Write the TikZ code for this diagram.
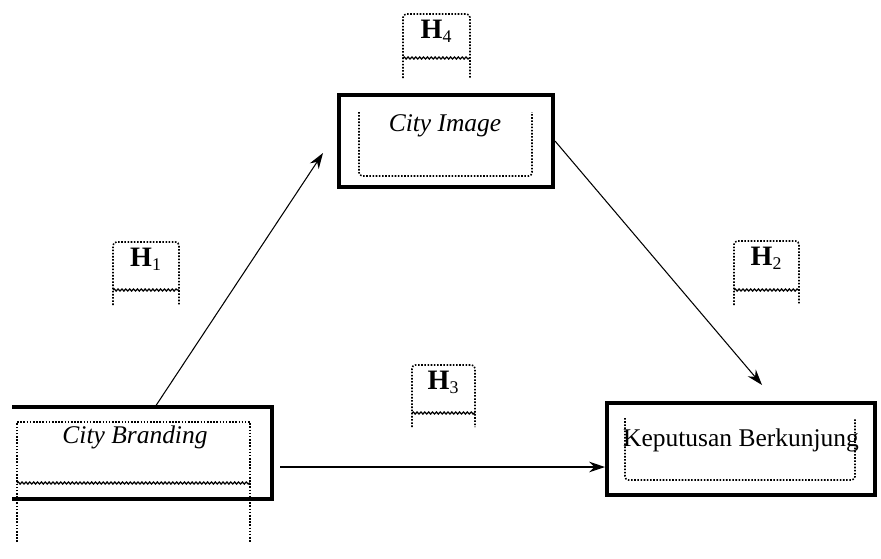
\documentclass[tikz,border=0pt]{standalone}
\usepackage{fontspec}
\setmainfont{Liberation Serif}
\usetikzlibrary{arrows.meta,decorations.pathmorphing}

\tikzset{
	varbox/.style={draw,line width=2.3pt,inner sep=0pt,minimum height=1.84cm},
	dotbox/.style={draw,line width=0.9pt,dash pattern=on 0.9pt off 0.9pt},
	wavy/.style={decorate,decoration={snake,amplitude=0.6pt,segment length=2.2pt},line width=0.7pt},
	link/.style={-{Stealth[length=9pt,width=6pt]},line width=0.6pt},
	lbl/.style={font=\fontsize{14.5}{17}\selectfont}
}

\begin{document}
\begin{tikzpicture}[x=0.02cm,y=-0.02cm]
		\useasboundingbox (0,0) rectangle (881,558);
		% the three variables
		\node[varbox,minimum width=4.28cm] (image) at (446,141) {};
		\node[varbox,draw=none,outer sep=0pt,minimum width=5.2cm] (branding) at (142,453) {};
		\draw[line width=2.3pt] (branding.north west) -- (branding.north east) -- (branding.south east) -- (branding.south west);
		\node[varbox,minimum width=5.36cm] (keputusan) at (741,449) {};
		\node[lbl] (imagetxt) at (445,126) {\textit{City Image}};
		\node[lbl] (brandingtxt) at (135,437) {\textit{City Branding}};
		\node[lbl] (keputusantxt) at (741,440) {Keputusan Berkunjung};
		% dotted frames inside
		\draw[dotbox,rounded corners=2pt] (359,112) -- (359,176) -- (532,176) -- (532,112);
		\draw[dotbox,rounded corners=2pt] (625,418) -- (625,480) -- (855,480) -- (855,418);
		\draw[dotbox] (17,542) -- (17,422) -- (250,422) -- (250,542);
		\draw[wavy] (17,483) -- (250,483);
		% hypotheses
		\foreach \i/\l/\r/\t/\w/\b in {4/403/470/14/58/78,1/113/179/242/290/305,2/734/799/241/290/305,3/412/475/365/413/427}
		{
			\draw[dotbox,rounded corners=2pt] (\l,\b) -- (\l,\t) -- (\r,\t) -- (\r,\b);
			\draw[wavy] (\l,\w) -- (\r,\w);
			\node[lbl] (h\i) at ({(\l+\r)/2},{\t+17}) {\textbf{\fontsize{16}{18}\selectfont H}\textsubscript{\i}};
		}
		% paths
		\coordinate (imgin) at (323,153);
		\coordinate (kepin) at (762,385);
		\coordinate (brout) at (280,467);
		\draw[link] (branding.north -| 155,0) -- (imgin);
		\draw[link] (image.east) -- (kepin);
		\draw[link] (brout) -- (keputusan.west |- brout);
\end{tikzpicture}
\end{document}
